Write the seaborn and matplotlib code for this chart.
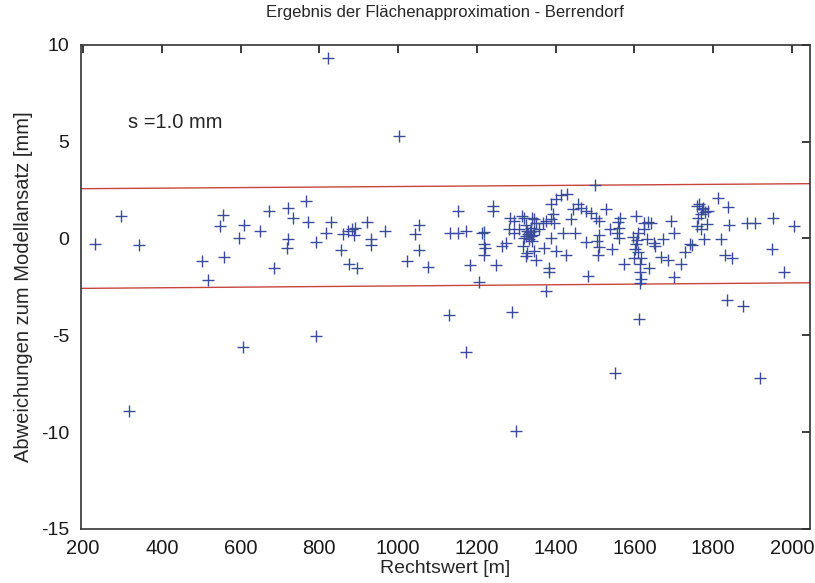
import numpy as np
import pandas as pd
import matplotlib
matplotlib.use('Agg')
import matplotlib.pyplot as plt
import seaborn as sns

# Abweichungen (Rechtswert [m], Abweichung [mm])
rechtswert = [
    230, 296, 317, 343, 501, 518, 548, 556, 558, 597, 607, 609, 650, 672, 686,
    721, 734, 721, 719, 765, 770, 792, 792, 817, 823, 829, 855, 861, 872, 884,
    890, 888, 874, 895, 920, 931, 931, 967, 1001, 1022, 1043, 1054, 1054, 1077,
    1130, 1132, 1152, 1153, 1172, 1172, 1183, 1206, 1213, 1219, 1219, 1221, 1217,
    1240, 1241, 1248, 1263, 1274,
    1285, 1294, 1282, 1294, 1307, 1320, 1324, 1328, 1337, 1320, 1341, 1350, 1358,
    1346, 1367, 1375, 1316, 1328, 1346, 1350, 1324, 1289, 1299, 1375, 1371, 1384,
    1384, 1388, 1400, 1413, 1428, 1392, 1388, 1396, 1388, 1418, 1400, 1427, 1314,
    1340, 1330, 1335, 1342, 1345, 1338, 1325, 1332,
    1444, 1440, 1456, 1465, 1478, 1490, 1499, 1503, 1511, 1529, 1538, 1557, 1563,
    1561, 1555, 1560, 1449, 1478, 1504, 1511, 1542, 1507, 1483, 1550, 1509,
    1574, 1603, 1624, 1635, 1643, 1625, 1632, 1649, 1597, 1604, 1602, 1608, 1617,
    1598, 1651, 1673, 1692, 1700, 1636, 1613, 1617, 1613, 1667, 1686, 1717, 1728,
    1701, 1615, 1742, 1612, 1610, 1606,
    1745, 1758, 1763, 1771, 1780, 1786, 1762, 1760, 1769, 1784, 1776, 1812, 1837,
    1839, 1820, 1829, 1848, 1887, 1907, 1953, 1949, 2006, 1979, 1835, 1876, 1918,
    1775, 1768,
]
abweichung = [
    -0.31, 1.15, -8.92, -0.36, -1.17, -2.17, 0.64, 1.19, -0.95, 0.03, -5.60, 0.72,
    0.41, 1.41, -1.52, 1.58, 1.07, -0.05, -0.50, 1.93, 0.86, -0.17, -5.05, 0.29,
    9.34, 0.86, -0.60, 0.21, 0.38, 0.50, 0.55, 0.20, -1.34, -1.54, 0.84, -0.02,
    -0.34, 0.38, 5.29, -1.14, 0.23, 0.70, -0.58, -1.49,
    -3.98, 0.27, 1.43, 0.27, 0.38, -5.87, -1.39, -2.26, 0.26, 0.35, -0.30, -0.50,
    -0.83, 1.67, 1.41, -1.39, -0.38, -0.26,
    1.07, 0.89, 0.47, 0.29, 0.47, 1.07, 0.72, 0.38, 0.12, 0.03, -0.14, 0.81, 0.47,
    0.98, 0.81, 0.89, -0.40, -0.74, -0.66, -1.09, -0.91, -3.81, -9.96, -2.74, -0.48,
    -1.52, -1.74, 1.76, 2.05, 2.25, 2.30, 1.24, 0.98, 0.81, 0.03, 0.29, -0.66, -0.86,
    1.15, 1.07, 0.25, 0.35, 0.20, 0.40, 0.55, 0.15, -0.05,
    1.50, 0.98, 1.76, 1.59, 1.41, 1.33, 2.74, 1.07, 0.89, 1.50, 0.50, 0.85, 1.07,
    0.55, 0.29, 0.00, 0.29, -0.20, -0.13, -0.45, -0.57, -0.83, -1.96, -6.94, 0.16,
    -1.34, 1.15, 0.81, 0.86, 0.81, 0.47, -0.05, -0.22, 0.10, -0.30, -0.55, -0.72,
    -1.00, -1.00, -0.40, -0.05, 0.89, 0.29, -1.52, -1.75, -2.12, -2.29, -0.95, -1.13,
    -1.30, -0.70, -1.97, -1.34, -0.31, -4.15, 0.30, -0.10,
    -0.35, 1.67, 1.76, 1.50, 1.36, 1.41, 1.07, 0.64, 0.47, 0.76, -0.05, 2.10, 1.65,
    0.72, -0.03, -0.86, -1.00, 0.81, 0.81, 1.07, -0.52, 0.64, -1.72, -3.20, -3.50,
    -7.20, 1.55, 1.25,
]

# Grenzlinien (obere / untere Schranke)
grenze_x = [194, 2046]
grenze_oben = [2.57, 2.83]
grenze_unten = [-2.58, -2.29]

x_ticks = [200, 400, 600, 800, 1000, 1200, 1400, 1600, 1800, 2000]
y_ticks = [-15, -10, -5, 0, 5, 10]

df = pd.DataFrame({'x': rechtswert, 'y': abweichung})

sns.set_style('white')
plt.rcParams['font.family'] = ['Liberation Sans', 'DejaVu Sans']
plt.rcParams['axes.unicode_minus'] = False

fig = plt.figure(figsize=(8.15, 5.83), dpi=100)
ax = fig.add_axes([0.099, 0.093, 0.895, 0.830])

sns.lineplot(x=grenze_x, y=grenze_oben, color='#c8453f', linewidth=1.0, ax=ax)
sns.lineplot(x=grenze_x, y=grenze_unten, color='#c8453f', linewidth=1.0, ax=ax)
sns.scatterplot(data=df, x='x', y='y', marker='+', s=80, color='#3b4c9b',
                linewidth=1.0, ax=ax, zorder=3)

ax.set_xlim(194, 2046)
ax.set_ylim(-15, 10)
ax.set_xticks(x_ticks)
ax.set_yticks(y_ticks)
ax.tick_params(direction='in', length=6, width=1.2, top=True, right=True,
               colors='#1a1a1a')
ax.tick_params(axis='x', labelsize=14.5, pad=7)
ax.tick_params(axis='y', labelsize=14, pad=8)
for s in ax.spines.values():
    s.set_color('#333333')
    s.set_linewidth(1.2)

ax.set_title('Ergebnis der Flächenapproximation - Berrendorf', fontsize=12, pad=20)
ax.set_xlabel('Rechtswert [m]', fontsize=14, labelpad=2)
ax.set_ylabel('Abweichungen zum Modellansatz [mm]', fontsize=14.5, labelpad=6)
ax.text(314, 6.0, 's =1.0 mm', fontsize=14.5, va='center')

fig.savefig('out.png', dpi=100)
